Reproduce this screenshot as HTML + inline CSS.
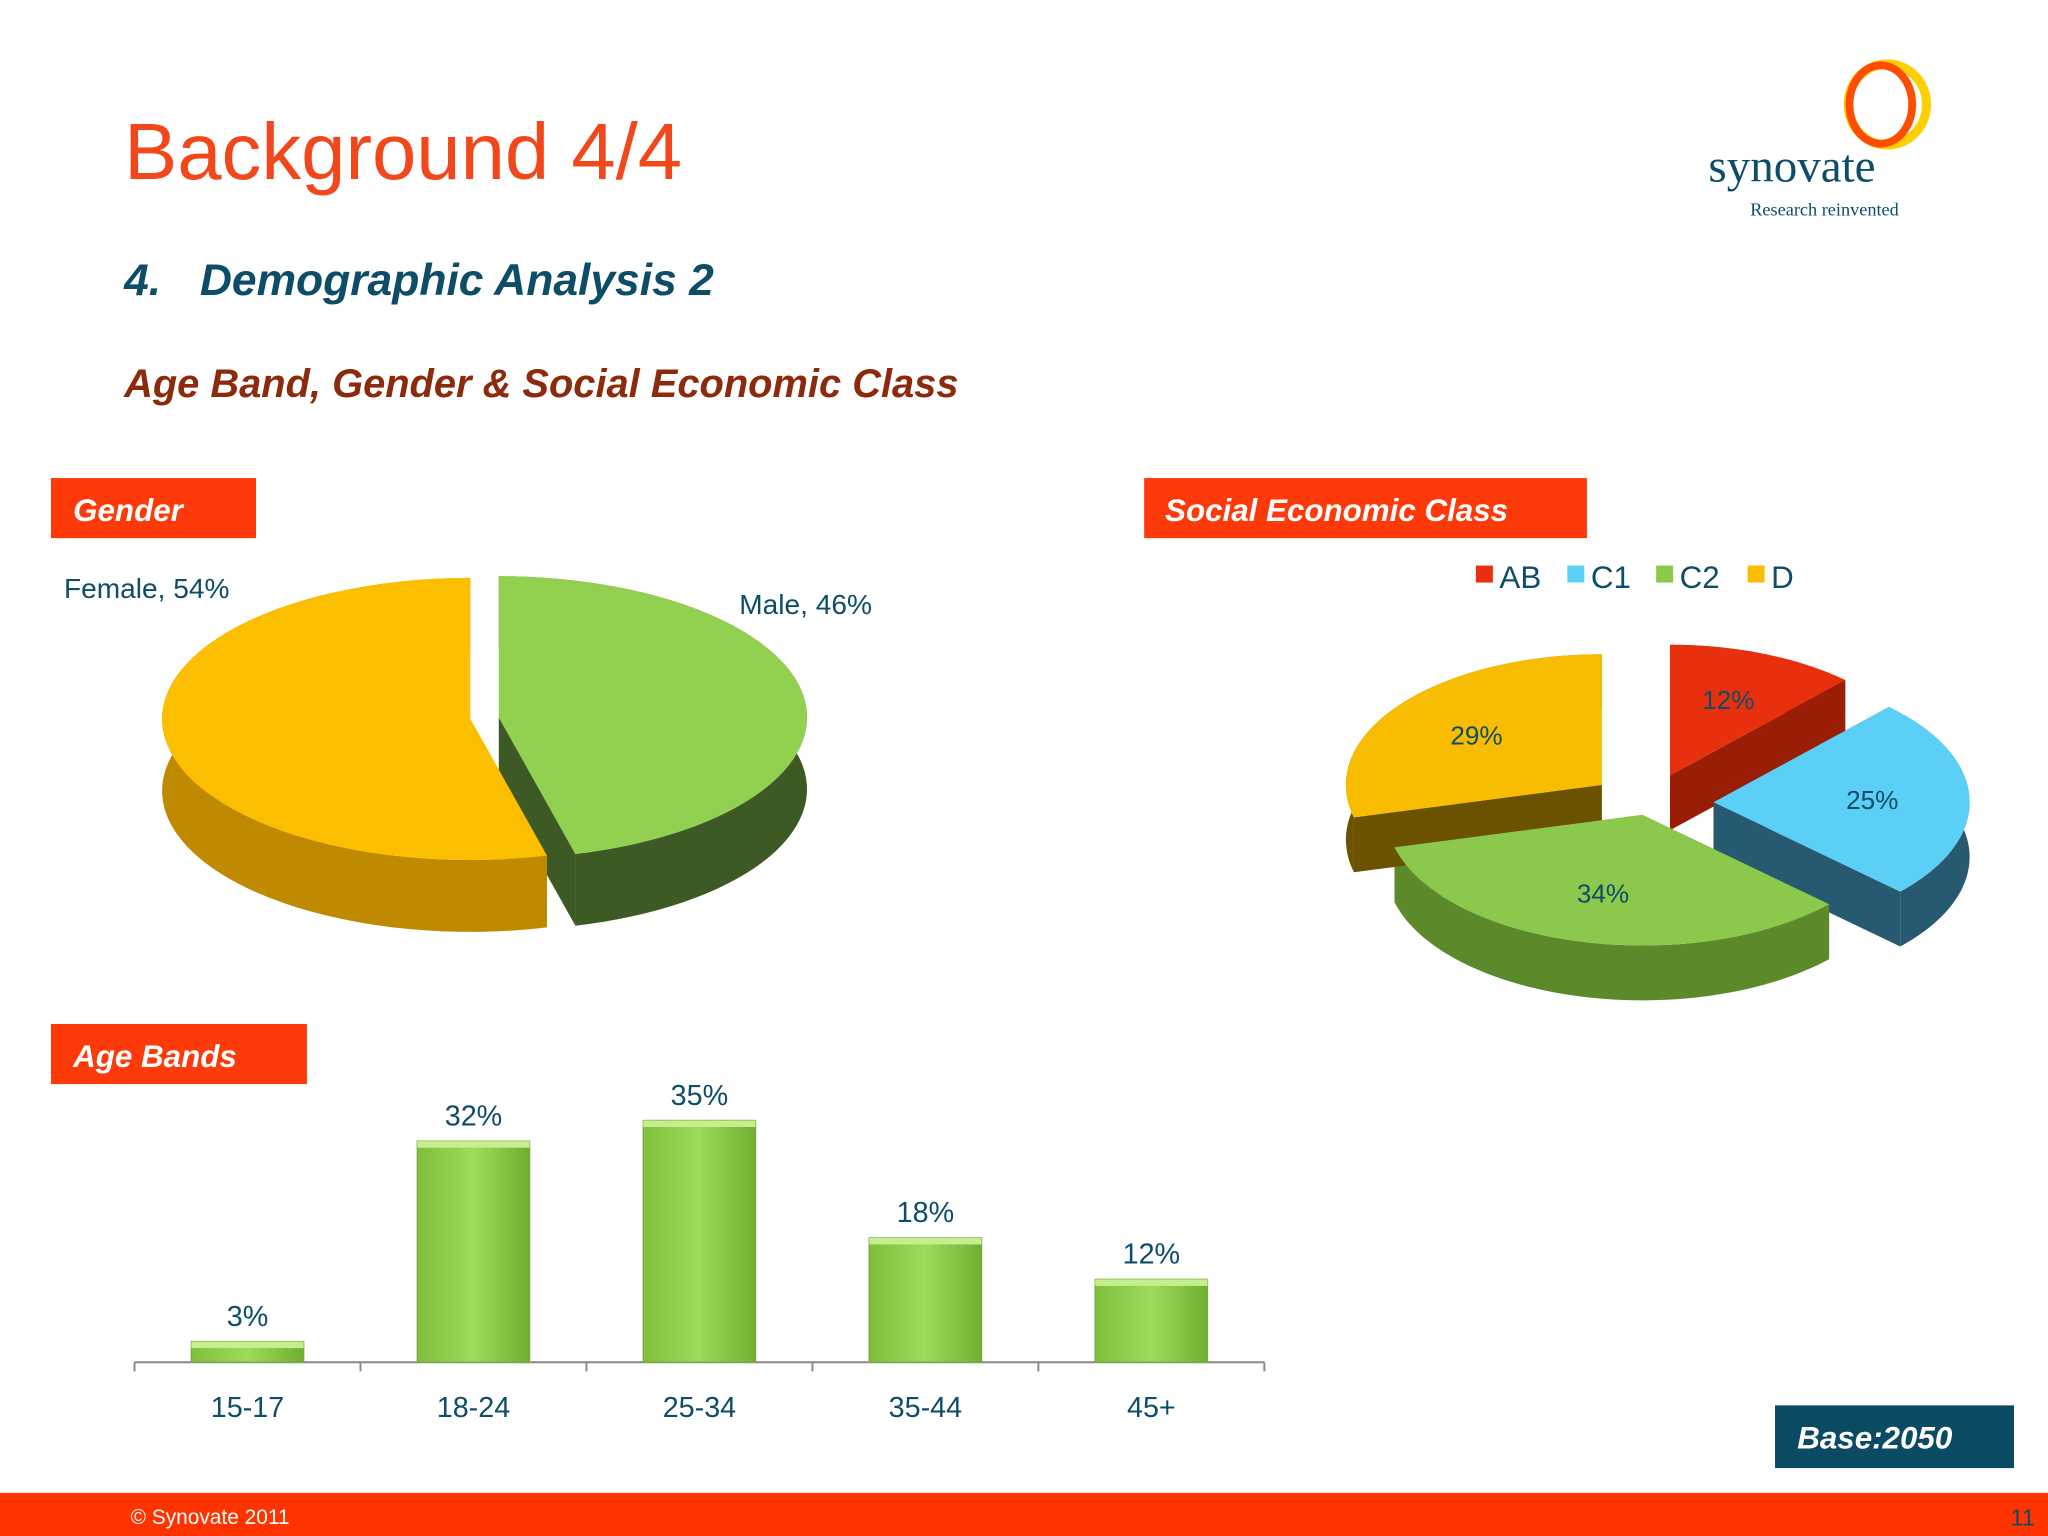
<!DOCTYPE html>
<html><head><meta charset="utf-8"><style>
html,body{margin:0;padding:0;background:#fff;}
svg{display:block;font-family:"Liberation Sans",sans-serif;}
</style></head><body>
<svg id="s" width="2048" height="1536" viewBox="0 0 1568 1176" xmlns="http://www.w3.org/2000/svg">
<defs>
<linearGradient id="barG" x1="0" x2="1" y1="0" y2="0"><stop offset="0" stop-color="#7fbf3c"/><stop offset="0.5" stop-color="#9ddb5a"/><stop offset="1" stop-color="#6fae30"/></linearGradient>
</defs>
<text x="95" y="137" font-size="61" fill="#f2461b">Background 4/4</text>
<text x="95" y="226" font-size="34" font-weight="bold" font-style="italic" fill="#0d4d68">4.</text>
<text x="153" y="226" font-size="34" font-weight="bold" font-style="italic" fill="#0d4d68">Demographic Analysis 2</text>
<text x="95" y="304" font-size="30.5" font-weight="bold" font-style="italic" fill="#8b2a0c">Age Band, Gender &amp; Social Economic Class</text>

<g>
<ellipse cx="1445" cy="80" rx="30" ry="31" fill="none" stroke="#ffd000" stroke-width="7"/>
<ellipse cx="1440" cy="80" rx="24" ry="30" fill="none" stroke="#ff4d00" stroke-width="6"/>
<text x="1308" y="139" font-family="Liberation Serif,serif" font-size="36" fill="#0d4d68">synovate</text>
<text x="1340" y="165" font-family="Liberation Serif,serif" font-size="14" fill="#0d4d68">Research reinvented</text>
</g>

<rect x="39" y="366" width="157" height="46" fill="#ff3a0a"/>
<text x="56" y="399" font-size="24" font-weight="bold" font-style="italic" fill="#fff">Gender</text>
<rect x="876" y="366" width="339" height="46" fill="#ff3a0a"/>
<text x="892" y="399" font-size="24" font-weight="bold" font-style="italic" fill="#fff">Social Economic Class</text>
<rect x="39" y="784" width="196" height="46" fill="#ff3a0a"/>
<text x="56" y="817" font-size="24" font-weight="bold" font-style="italic" fill="#fff">Age Bands</text>
<rect x="1359" y="1076" width="183" height="48" fill="#0b4a63"/>
<text x="1376" y="1109" font-size="24" font-weight="bold" font-style="italic" fill="#fff">Base:2050</text>

<rect x="0" y="1143" width="1568" height="33" fill="#ff3300"/>
<text x="100" y="1167" font-size="16" fill="#fff">© Synovate 2011</text>
<text x="1558" y="1168" font-size="18" fill="#0b4a63" text-anchor="end">11</text>

<g id="gender"></g>
<g id="sec"></g>
<g id="bars"></g>
</svg>
<script>
const genderCats = ["Male","Female"];
const genderVals = [46,54];
const secCats = ["AB","C1","C2","D"];
const secVals = [12,25,34,29];
const ageCats = ["15-17","18-24","25-34","35-44","45+"];
const ageVals = [3,32,35,18,12];

const NS="http://www.w3.org/2000/svg";
function mk(tag,attrs,parent){const e=document.createElementNS(NS,tag);for(const k in attrs)e.setAttribute(k,attrs[k]);parent.appendChild(e);return e;}

function pie3d(g,vals,cx,cy,rx,ry,depth,tops,sides,explode,name){
  const total=vals.reduce((a,b)=>a+b,0);
  let a0=0;const slices=[];
  vals.forEach((v,i)=>{const a1=a0+v/total*2*Math.PI;const m=(a0+a1)/2;
    const ox=Math.sin(m)*explode[i],oy=-Math.cos(m)*explode[i]*ry/rx;
    slices.push({a0,a1,ox,oy,i});a0=a1;});
  const P=(s,t,dz)=>[cx+s.ox+rx*Math.sin(t),cy+s.oy-ry*Math.cos(t)+dz];
  slices.forEach(s=>{
    const c=[cx+s.ox,cy+s.oy];
    [s.a0,s.a1].forEach(t=>{const p=P(s,t,0);
      const el=mk('polygon',{points:[c,p,[p[0],p[1]+depth],[c[0],c[1]+depth]].map(q=>q.join(',')).join(' '),fill:sides[s.i]},g);
      
      });
    const pts=[];const N=60;
    for(let k=0;k<=N;k++){pts.push(P(s,s.a0+(s.a1-s.a0)*k/N,0));}
    for(let k=N;k>=0;k--){pts.push(P(s,s.a0+(s.a1-s.a0)*k/N,depth));}
    const el=mk('polygon',{points:pts.map(q=>q.join(',')).join(' '),fill:sides[s.i]},g);
    
    
  });
  slices.forEach(s=>{
    const c=[cx+s.ox,cy+s.oy];const pts=[c];const N=60;
    for(let k=0;k<=N;k++)pts.push(P(s,s.a0+(s.a1-s.a0)*k/N,0));
    const el=mk('polygon',{points:pts.map(q=>q.join(',')).join(' '),fill:tops[s.i]},g);
    
    
  });
  return slices;
}

const gg=document.getElementById('gender');
pie3d(gg,genderVals,368,550,236,108,55,["#92d050","#fbbf00"],["#3d5a24","#c08a00"],[14,8],'gender-pie');
let t=mk('text',{x:566,y:470,'font-size':21.5,fill:'#0d4d68'},gg);t.textContent=genderCats[0]+", "+genderVals[0]+"%";


t=mk('text',{x:49,y:458,'font-size':21.5,fill:'#0d4d68'},gg);t.textContent=genderCats[1]+", "+genderVals[1]+"%";



const sg=document.getElementById('sec');
const secTops=["#e8300e","#5bcff5","#8cc84b","#f8bd00"];
const secSides=["#9a1d05","#275a70","#5c8a2a","#6a5200"];
const sl=pie3d(sg,secVals,1262,615,196,100,42,secTops,secSides,[45,50,18,45],'sec-pie');
sl.forEach(s=>{const m=(s.a0+s.a1)/2;
  const x=1262+s.ox+Math.sin(m)*196*0.62, y=615+s.oy-Math.cos(m)*100*0.62+7;
  const e=mk('text',{x:x,y:y,'font-size':20,fill:'#0d4d68','text-anchor':'middle'},sg);e.textContent=secVals[s.i]+"%";
  
  });
let lx=1130;
secCats.forEach((c,i)=>{
  const r=mk('rect',{x:lx,y:433,width:13,height:13,fill:secTops[i]},sg);
  
  
  const e=mk('text',{x:lx+18,y:450,'font-size':24,fill:'#0d4d68'},sg);e.textContent=c;
  
  
  lx+=[70,68,70,50][i];
});

const bg=document.getElementById('bars');
const x0=103,bw=173,y0=1043,scale=5.29;
const yOf=v=>y0-v*scale;
let ax=mk('line',{x1:x0,y1:y0,x2:x0+bw*ageCats.length,y2:y0,stroke:'#888','stroke-width':1.5},bg);


for(let i=0;i<=ageCats.length;i++){const l=mk('line',{x1:x0+bw*i,y1:y0,x2:x0+bw*i,y2:y0+7,stroke:'#888','stroke-width':1.5},bg);
  
  }
ageVals.forEach((v,i)=>{
  const cx=x0+bw*i+bw/2;
  const b=mk('rect',{x:cx-43,y:yOf(v),width:86,height:y0-yOf(v),fill:'url(#barG)',stroke:'#7aa83e','stroke-width':1},bg);
  
  
  const tp=mk('rect',{x:cx-43,y:yOf(v),width:86,height:Math.min(5,y0-yOf(v)),fill:'#c5ef8e'},bg);
  
  
  const e=mk('text',{x:cx,y:yOf(v)-12,'font-size':22,fill:'#0d4d68','text-anchor':'middle'},bg);e.textContent=v+"%";
  
  
  const c=mk('text',{x:cx,y:1085,'font-size':22,fill:'#0d4d68','text-anchor':'middle'},bg);c.textContent=ageCats[i];
  
  
});
</script>
</body></html>
